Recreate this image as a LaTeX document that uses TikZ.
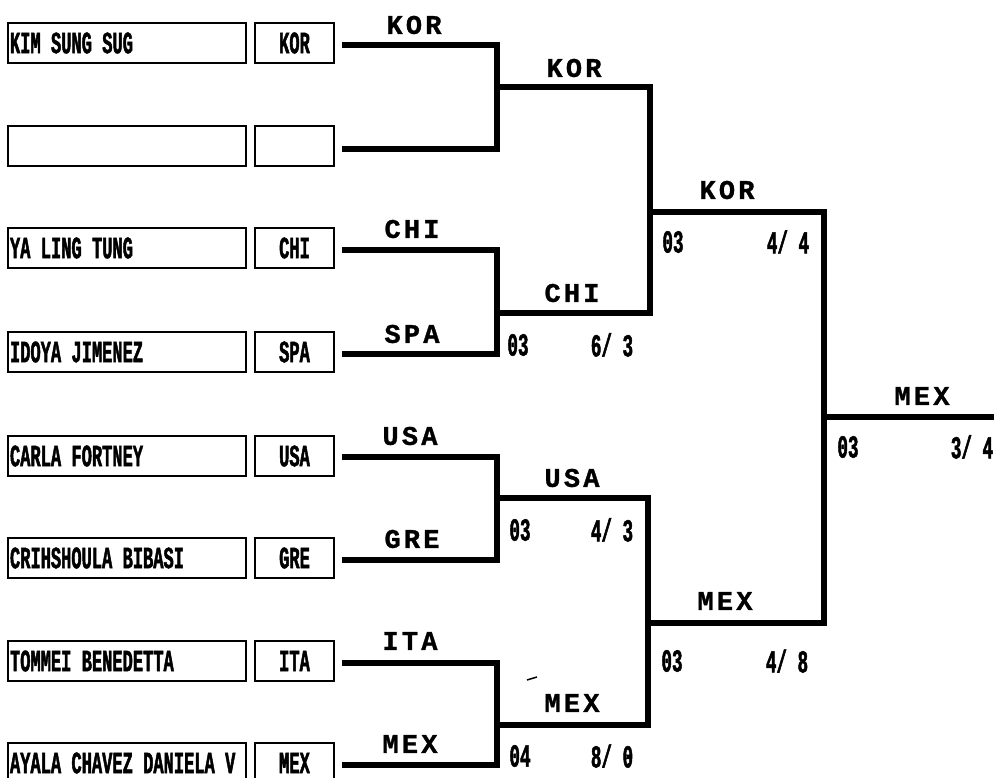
\documentclass[tikz,border=0pt]{standalone}
\usepackage{fontspec}
\newfontfamily\namefont[FakeStretch=0.55,FakeBold=1.5]{Liberation Mono}
\newfontfamily\lblfont[LetterSpace=12,FakeBold=1]{Liberation Mono}
\begin{document}
\begin{tikzpicture}[x=1pt,y=-1pt,
  namebox/.style={draw, line width=1.8pt, minimum width=238pt, minimum height=40pt,
    inner sep=0pt, text width=234pt, align=left,
    font=\namefont\bfseries\fontsize{31}{31}\selectfont},
  ctrybox/.style={draw, line width=1.8pt, minimum width=79pt, minimum height=40pt,
    inner sep=0pt, font=\namefont\bfseries\fontsize{31}{31}\selectfont},
  lbl/.style={inner sep=0pt, font=\lblfont\bfseries\fontsize{27}{27}\selectfont},
  num/.style={inner sep=0pt, font=\namefont\bfseries\fontsize{32}{32}\selectfont},
  bline/.style={line width=6.5pt, line join=miter, line cap=butt}]
\useasboundingbox (0,0) rectangle (994,778);
% entry boxes
\node[namebox] (n1) at (127,43) {KIM SUNG SUG};
\node[ctrybox] (c1) at (294.5,43) {KOR};
\node[namebox] (n2) at (127,146) {};
\node[ctrybox] (c2) at (294.5,146) {};
\node[namebox] (n3) at (127,248) {YA LING TUNG};
\node[ctrybox] (c3) at (294.5,248) {CHI};
\node[namebox] (n4) at (127,352) {IDOYA JIMENEZ};
\node[ctrybox] (c4) at (294.5,352) {SPA};
\node[namebox] (n5) at (127,456) {CARLA FORTNEY};
\node[ctrybox] (c5) at (294.5,456) {USA};
\node[namebox] (n6) at (127,558) {CRIHSHOULA BIBASI};
\node[ctrybox] (c6) at (294.5,558) {GRE};
\node[namebox] (n7) at (127,661) {TOMMEI BENEDETTA};
\node[ctrybox] (c7) at (294.5,661) {ITA};
\node[namebox] (n8) at (127,763) {AYALA CHAVEZ DANIELA V};
\node[ctrybox] (c8) at (294.5,763) {MEX};
% round 1 coordinates
\coordinate (a1) at (342,45);  \coordinate (b1) at (497,45);
\coordinate (a2) at (342,149); \coordinate (b2) at (497,149);
\coordinate (a3) at (342,250); \coordinate (b3) at (497,250);
\coordinate (a4) at (342,354); \coordinate (b4) at (497,354);
\coordinate (a5) at (342,457); \coordinate (b5) at (497,457);
\coordinate (a6) at (342,560); \coordinate (b6) at (497,560);
\coordinate (a7) at (342,663); \coordinate (b7) at (497,663);
\coordinate (a8) at (342,765); \coordinate (b8) at (497,765);
% round 2
\coordinate (r2a) at (497,87);  \coordinate (r2ae) at (650,87);
\coordinate (r2b) at (497,313); \coordinate (r2be) at (650,313);
\coordinate (r2c) at (497,498); \coordinate (r2ce) at (648,498);
\coordinate (r2d) at (497,725); \coordinate (r2de) at (648,725);
% round 3
\coordinate (r3a) at (650,212); \coordinate (r3ae) at (824,212);
\coordinate (r3b) at (648,623); \coordinate (r3be) at (824,623);
% final
\coordinate (fa) at (824,417); \coordinate (fe) at (994,417);
% bracket lines
\draw[bline] (a1) -- (b1) -- (b2) -- (a2);
\draw[bline] (a3) -- (b3) -- (b4) -- (a4);
\draw[bline] (a5) -- (b5) -- (b6) -- (a6);
\draw[bline] (a7) -- (b7) -- (b8) -- (a8);
\draw[bline] (r2a) -- (r2ae) -- (r2be) -- (r2b);
\draw[bline] (r2c) -- (r2ce) -- (r2de) -- (r2d);
\draw[bline] (r3a) -- (r3ae) -- (r3be) -- (r3b);
\draw[bline] (fa) -- (fe);
% labels
\node[lbl] (l1) at (414,25) {KOR};
\node[lbl] (l2) at (574,68) {KOR};
\node[lbl] (l3) at (412,229) {CHI};
\node[lbl] (l4) at (412,334) {SPA};
\node[lbl] (l5) at (572,293) {CHI};
\node[num] (s5a) at (518,345) {03};
\node[num] (s5b) at (612,345) {6/ 3};
\node[lbl] (l6) at (727,190) {KOR};
\node[num] (s6a) at (673,242) {03};
\node[num] (s6b) at (788,242) {4/ 4};
\node[lbl] (l7) at (922,396) {MEX};
\node[num] (s7a) at (848,447) {03};
\node[num] (s7b) at (972,447) {3/ 4};
\node[lbl] (l8) at (410,436) {USA};
\node[lbl] (l9) at (412,539) {GRE};
\node[lbl] (l10) at (410,641) {ITA};
\node[lbl] (l11) at (410,744) {MEX};
\node[lbl] (l12) at (572,478) {USA};
\node[num] (s12a) at (520,530) {03};
\node[num] (s12b) at (612,530) {4/ 3};
\node[lbl] (l13) at (572,703) {MEX};
\node[num] (s13a) at (520,756) {04};
\node[num] (s13b) at (612,756) {8/ 0};
\node[lbl] (l14) at (725,601) {MEX};
\node[num] (s14a) at (672,661) {03};
\node[num] (s14b) at (787,661) {4/ 8};
\draw[line width=1.5pt] (527,680) -- (537,677);
\end{tikzpicture}
\end{document}
